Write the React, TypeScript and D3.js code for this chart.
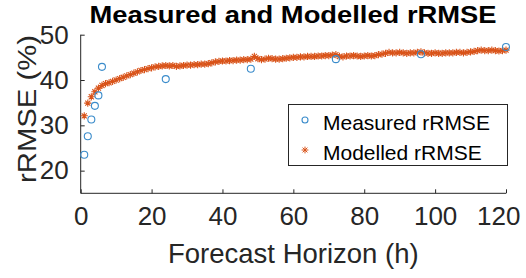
import React, { useEffect, useRef } from 'react';
import * as d3 from 'd3';

// measured rRMSE at the sampled horizons
const measuredHours = [1, 2, 3, 4, 5, 6, 24, 48, 72, 96, 120];
const measuredValues = [23.5, 27.6, 31.3, 34.3, 36.6, 42.9, 40.2, 42.5, 44.6, 45.7, 47.3];

// modelled rRMSE, one value per hour 1..120
const modelledValues = [
  32.1, 34.9, 36.3, 37.4, 38.2, 38.8, 39.2, 39.4, 39.7, 40.0,
  40.3, 40.6, 40.9, 41.2, 41.5, 41.8, 42.1, 42.3, 42.5, 42.7,
  42.9, 43.0, 43.1, 43.2, 43.1, 43.2, 43.0, 43.1, 43.2, 43.3,
  43.3, 43.4, 43.4, 43.5, 43.5, 43.6, 43.8, 44.0, 44.1, 44.2,
  44.2, 44.3, 44.3, 44.4, 44.4, 44.5, 44.5, 44.6, 45.2, 44.7,
  44.5, 44.6, 44.8, 44.7, 44.6, 44.6, 44.7, 44.8, 44.9, 45.0,
  45.0, 45.1, 45.1, 45.2, 45.2, 45.2, 45.3, 45.3, 45.4, 45.4,
  45.5, 45.6, 45.2, 45.1, 45.3, 45.3, 45.4, 45.3, 45.2, 45.3,
  45.4, 45.3, 45.4, 45.6, 45.7, 45.9, 46.1, 46.0, 46.0, 46.1,
  46.0, 45.9, 46.0, 46.0, 46.1, 46.2, 46.0, 45.9, 45.9, 46.0,
  45.9, 45.9, 46.0, 46.0, 46.0, 46.1, 46.1, 46.0, 46.1, 46.2,
  46.3, 46.5, 46.6, 46.5, 46.5, 46.6, 46.5, 46.4, 46.5, 46.6,
];
const modelledHours = modelledValues.map((_, i) => i + 1);

const xTicks = [0, 20, 40, 60, 80, 100, 120];
const yTicks = [20, 30, 40, 50];

const BLUE = '#3b8ccb';
const ORANGE = '#d95319';
const AXIS = '#262626';

const W = 526, H = 278;

function starPath(x: number, y: number, r: number) {
  const d = r * 0.7071;
  return `M${x - r},${y}L${x + r},${y}M${x},${y - r}L${x},${y + r}` +
    `M${x - d},${y - d}L${x + d},${y + d}M${x - d},${y + d}L${x + d},${y - d}`;
}

const App: React.FC = () => {
  const ref = useRef<SVGSVGElement>(null);

  useEffect(() => {
    if (!ref.current) return;
    const svg = d3.select(ref.current);
    svg.selectAll('*').remove();

    const left = 80.7, right = 506, top = 34.7, bottom = 193.3;
    const x = d3.scaleLinear().domain([0, 120]).range([left, right]);
    const y = d3.scaleLinear().domain([15, 50]).range([bottom, top]);
    const font = "'Liberation Sans', Arial, sans-serif";

    // axes (box off, ticks pointing inward)
    const xAxis = svg.append('g').attr('transform', `translate(0,${bottom})`)
      .call(d3.axisBottom(x).tickValues(xTicks).tickSizeInner(-4).tickSizeOuter(0).tickPadding(13));
    const yAxis = svg.append('g').attr('transform', `translate(${left},0)`)
      .call(d3.axisLeft(y).tickValues(yTicks).tickSizeInner(-4).tickSizeOuter(0).tickPadding(12));
    [xAxis, yAxis].forEach(a => {
      a.select('.domain').attr('stroke', AXIS).attr('stroke-width', 1);
      a.selectAll('.tick line').attr('stroke', AXIS);
      a.selectAll('.tick text').attr('fill', AXIS).style('font-family', font).style('font-size', '26px');
    });
    yAxis.select('.domain').attr('d', `M0,${top}V${bottom}`);
    xAxis.select('.domain').attr('d', `M${left},0H${right}`);
    xAxis.selectAll('.tick text').attr('dy', '0.71em');
    // last label pulled inside the figure, as MATLAB's export shows it
    xAxis.selectAll<SVGTextElement, number>('.tick text')
      .filter(d => d === 120)
      .attr('text-anchor', 'end')
      .attr('x', 520 - right);

    // modelled
    svg.append('path')
      .attr('d', modelledHours.map((h, i) => starPath(x(h), y(modelledValues[i]), 3.6)).join(''))
      .attr('stroke', ORANGE).attr('stroke-width', 1.1).attr('fill', 'none');

    // measured
    svg.append('g').selectAll('circle')
      .data(measuredHours)
      .join('circle')
      .attr('cx', d => x(d))
      .attr('cy', (_, i) => y(measuredValues[i]))
      .attr('r', 3.5)
      .attr('fill', 'none')
      .attr('stroke', BLUE)
      .attr('stroke-width', 1.1);

    // title
    svg.append('text')
      .attr('x', 293).attr('y', 22.7)
      .attr('text-anchor', 'middle')
      .attr('textLength', 407).attr('lengthAdjust', 'spacingAndGlyphs')
      .style('font-family', font).style('font-size', '23px').style('font-weight', 'bold')
      .attr('fill', '#000')
      .text('Measured and Modelled rRMSE');

    // axis labels
    svg.append('text')
      .attr('x', (left + right) / 2).attr('y', 262.7)
      .attr('text-anchor', 'middle')
      .style('font-family', font).style('font-size', '27.5px')
      .attr('fill', AXIS)
      .text('Forecast Horizon (h)');
    svg.append('text')
      .attr('transform', `translate(36,109) rotate(-90)`)
      .attr('text-anchor', 'middle')
      .attr('textLength', 148).attr('lengthAdjust', 'spacingAndGlyphs')
      .style('font-family', font).style('font-size', '25px')
      .attr('fill', AXIS)
      .text('rRMSE (%)');

    // legend
    const lg = svg.append('g');
    lg.append('rect')
      .attr('x', 288.5).attr('y', 104.5).attr('width', 219).attr('height', 61)
      .attr('fill', '#fff').attr('stroke', AXIS).attr('stroke-width', 1);
    lg.append('circle').attr('cx', 305).attr('cy', 120).attr('r', 3)
      .attr('fill', 'none').attr('stroke', BLUE).attr('stroke-width', 1.1);
    lg.append('path').attr('d', starPath(305, 150, 3.4))
      .attr('stroke', ORANGE).attr('stroke-width', 1).attr('fill', 'none');
    const legendItems = ['Measured rRMSE', 'Modelled rRMSE'];
    lg.selectAll('text.lt')
      .data(legendItems)
      .join('text')
      .attr('class', 'lt')
      .attr('x', 323).attr('y', (_, i) => 130 + i * 30)
      .style('font-family', font).style('font-size', '21px')
      .attr('fill', '#000')
      .text(d => d);
  }, []);

  return (
    <svg ref={ref} width={W} height={H}
      style={{ position: 'absolute', left: 0, top: 0, background: '#fff' }} />
  );
};

export default App;
